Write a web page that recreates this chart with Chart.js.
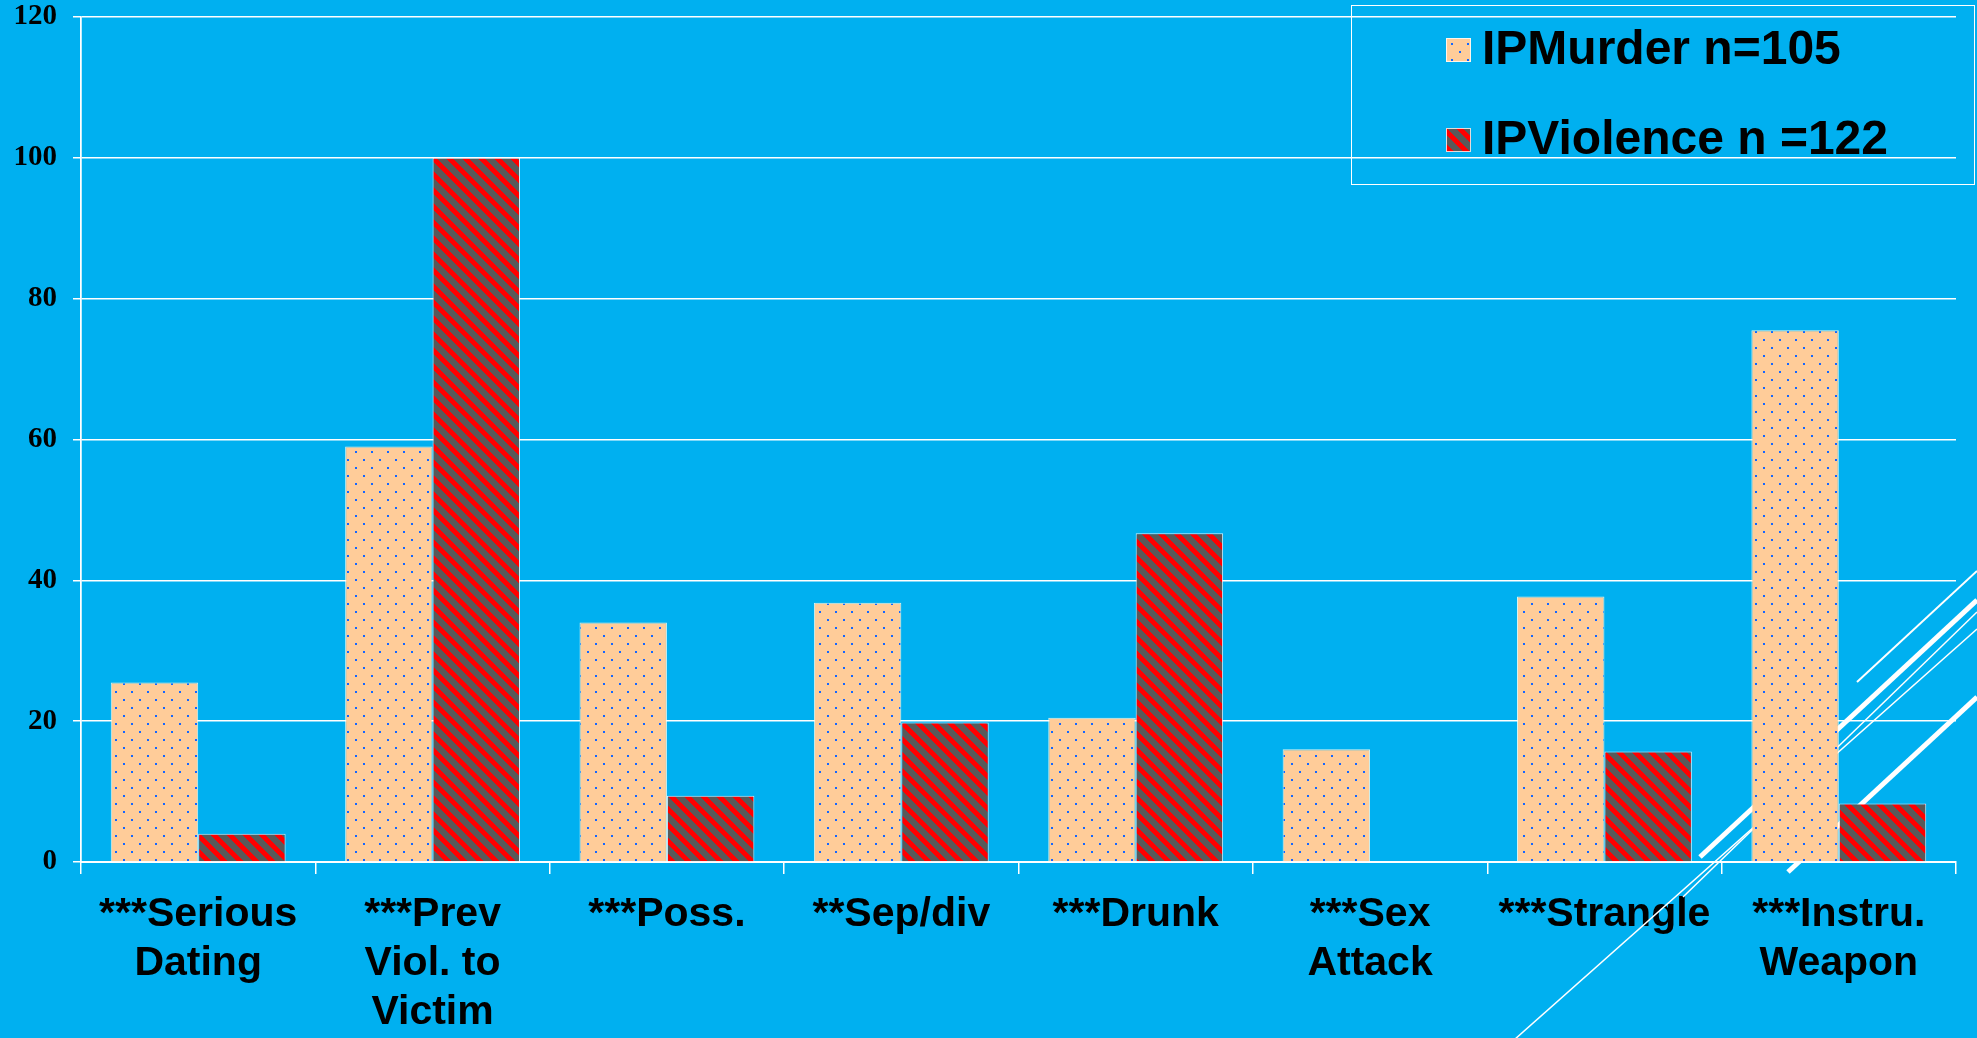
<!DOCTYPE html>
<html>
<head>
<meta charset="utf-8">
<script src="https://cdn.jsdelivr.net/npm/chart.js@4"></script>
<style>
  html, body { margin: 0; padding: 0; background: #00B0F0; overflow: hidden; }
  #wrap { width: 1977px; height: 1038px; position: relative; }
</style>
</head>
<body>
<div id="wrap"><canvas id="barChart"></canvas></div>
<script>
// chart values
const categories = [
  ['***Serious', 'Dating'],
  ['***Prev', 'Viol. to', 'Victim'],
  ['***Poss.'],
  ['**Sep/div'],
  ['***Drunk'],
  ['***Sex', 'Attack'],
  ['***Strangle'],
  ['***Instru.', 'Weapon']
];
const seriesNames = ['IPMurder n=105', 'IPViolence n =122'];
const murderValues = [25.5, 59, 34, 36.8, 20.5, 16, 37.7, 75.5];
const violenceValues = [4, 100, 9.4, 19.8, 46.7, 0, 15.7, 8.3];
const yMax = 120;
const yStep = 20;

function dotPattern() {
  const c = document.createElement('canvas');
  c.width = 16; c.height = 16;
  const g = c.getContext('2d');
  g.fillStyle = '#FFCC99';
  g.fillRect(0, 0, 16, 16);
  g.fillStyle = '#1466FF';
  g.fillRect(3, 3, 2, 2);
  g.fillRect(11, 11, 2, 2);
  return g.createPattern(c, 'repeat');
}

// crisp pixel stripes, red over dark gray, running down to the right
function stripePattern() {
  const c = document.createElement('canvas');
  c.width = 16; c.height = 16;
  const g = c.getContext('2d');
  g.fillStyle = '#595959';
  g.fillRect(0, 0, 16, 16);
  g.fillStyle = '#FF0000';
  for (let y = 0; y < 16; y++) {
    for (let x = 0; x < 16; x++) {
      if (((x - y) % 16 + 16) % 16 < 7) g.fillRect(x, y, 1, 1);
    }
  }
  return g.createPattern(c, 'repeat');
}

const murderFill = dotPattern();
const violenceFill = stripePattern();

// slide decoration: white diagonal strokes in the lower right corner
const decoPlugin = {
  id: 'deco',
  beforeDatasetsDraw(chart) {
    const ctx = chart.ctx;
    const strokes = [
      [1857, 682, 1977, 571, 2],
      [1700, 857, 1977, 600, 5],
      [1683, 897, 1977, 612, 1.5],
      [1514, 1040, 1977, 629, 1.5],
      [1788, 872, 1977, 697, 5]
    ];
    ctx.save();
    ctx.strokeStyle = '#ffffff';
    strokes.forEach(s => {
      ctx.lineWidth = s[4];
      ctx.beginPath();
      ctx.moveTo(s[0], s[1]);
      ctx.lineTo(s[2], s[3]);
      ctx.stroke();
    });
    ctx.restore();
  }
};

// boxed legend in the top right corner
const legendPlugin = {
  id: 'boxLegend',
  afterDraw(chart) {
    const ctx = chart.ctx;
    ctx.save();
    ctx.strokeStyle = '#ffffff';
    ctx.lineWidth = 1;
    ctx.strokeRect(1351.5, 5.5, chart.width - 1354, 179);
    chart.data.datasets.forEach((ds, i) => {
      const cy = 50 + i * 90;
      ctx.fillStyle = ds.backgroundColor;
      ctx.fillRect(1446, cy - 12, 25, 24);
      ctx.strokeStyle = 'rgba(255,255,255,0.8)';
      ctx.strokeRect(1446.5, cy - 11.5, 24, 23);
      ctx.fillStyle = '#000000';
      ctx.font = 'bold 48px "Liberation Sans", Arial, sans-serif';
      ctx.textBaseline = 'middle';
      ctx.textAlign = 'left';
      ctx.fillText(ds.label, 1482, cy + 1);
    });
    ctx.restore();
  }
};

new Chart(document.getElementById('barChart'), {
  type: 'bar',
  data: {
    labels: categories,
    datasets: [{
      label: seriesNames[0],
      data: murderValues,
      backgroundColor: murderFill,
      borderColor: 'rgba(255,255,240,0.85)',
      borderWidth: 1
    }, {
      label: seriesNames[1],
      data: violenceValues,
      backgroundColor: violenceFill,
      borderColor: 'rgba(255,255,255,0.8)',
      borderWidth: 1
    }]
  },
  options: {
    responsive: true,
    maintainAspectRatio: false,
    animation: false,
    datasets: { bar: { categoryPercentage: 0.746, barPercentage: 1.0 } },
    layout: { padding: { top: 17, right: 21, left: 0, bottom: 0 } },
    plugins: {
      legend: { display: false },
      tooltip: { enabled: false }
    },
    scales: {
      x: {
        afterFit(scale) { scale.height = 176; },
        grid: {
          offset: true,
          drawOnChartArea: true,
          color: ctx => (ctx.index === 0 || ctx.index === categories.length) ? '#ffffff' : 'rgba(0,0,0,0)',
          tickColor: '#ffffff',
          tickLength: 12,
          lineWidth: 1.5
        },
        border: { display: true, color: '#ffffff', width: 2 },
        ticks: {
          color: '#000000',
          autoSkip: false,
          maxRotation: 0,
          padding: 16,
          font: { family: '"Liberation Sans", Arial, sans-serif', size: 41, weight: 'bold', lineHeight: 1.2 }
        }
      },
      y: {
        min: 0,
        max: yMax,
        afterFit(scale) {
          scale.width = 81;
          scale.paddingTop = 0;
          scale.paddingBottom = 0;
        },
        grid: {
          color: '#ffffff',
          lineWidth: 1.5,
          tickLength: 8
        },
        border: { display: true, color: '#ffffff', width: 1.5 },
        ticks: {
          stepSize: yStep,
          color: '#000000',
          padding: 16,
          font: { family: '"Liberation Serif", "Times New Roman", serif', size: 29, weight: 'bold' }
        }
      }
    }
  },
  plugins: [decoPlugin, legendPlugin]
});
</script>
</body>
</html>
